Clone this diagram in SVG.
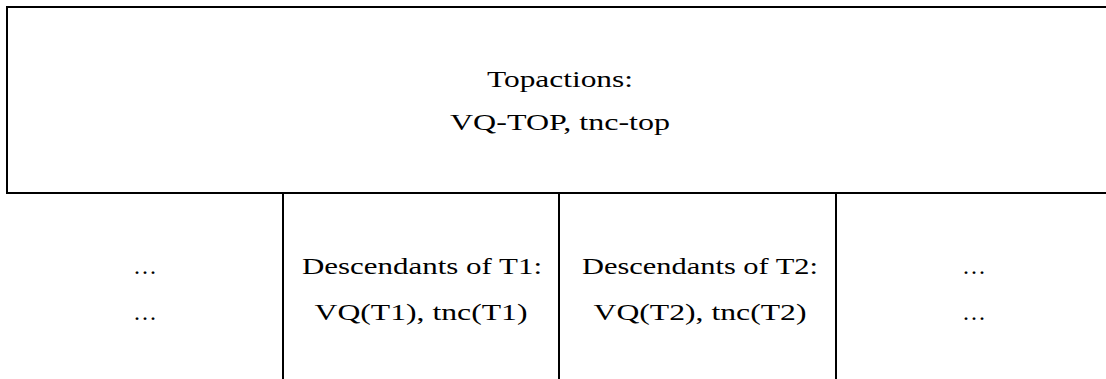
<svg xmlns="http://www.w3.org/2000/svg" width="1106" height="379" viewBox="0 0 1106 379">
<style>
.ln{stroke:#000;stroke-width:2;fill:none}
.t{font-family:"Liberation Serif","Times New Roman",serif;font-size:24px;fill:#000;text-anchor:middle}
</style>
<rect width="1106" height="379" fill="#fff"/>
<g id="connectors">
<path class="ln" d="M1106,7 H7 V193 H1106"/>
<path class="ln" d="M283,193 V379 M559,193 V379 M836,193 V379"/>
</g>
<g id="top">
<text class="t" x="560" y="87" textLength="146" lengthAdjust="spacingAndGlyphs">Topactions:</text>
<text class="t" x="560" y="130" textLength="220" lengthAdjust="spacingAndGlyphs">VQ-TOP, tnc-top</text>
</g>
<g id="left">
<text class="t" x="146" y="274" letter-spacing="2">...</text>
<text class="t" x="146" y="320" letter-spacing="2">...</text>
</g>
<g id="t1">
<text class="t" x="422" y="274" textLength="240" lengthAdjust="spacingAndGlyphs">Descendants of T1:</text>
<text class="t" x="421" y="320" textLength="213" lengthAdjust="spacingAndGlyphs">VQ(T1), tnc(T1)</text>
</g>
<g id="t2">
<text class="t" x="700" y="274" textLength="236" lengthAdjust="spacingAndGlyphs">Descendants of T2:</text>
<text class="t" x="700" y="320" textLength="213" lengthAdjust="spacingAndGlyphs">VQ(T2), tnc(T2)</text>
</g>
<g id="right">
<text class="t" x="975" y="274" letter-spacing="2">...</text>
<text class="t" x="975" y="320" letter-spacing="2">...</text>
</g>
</svg>
